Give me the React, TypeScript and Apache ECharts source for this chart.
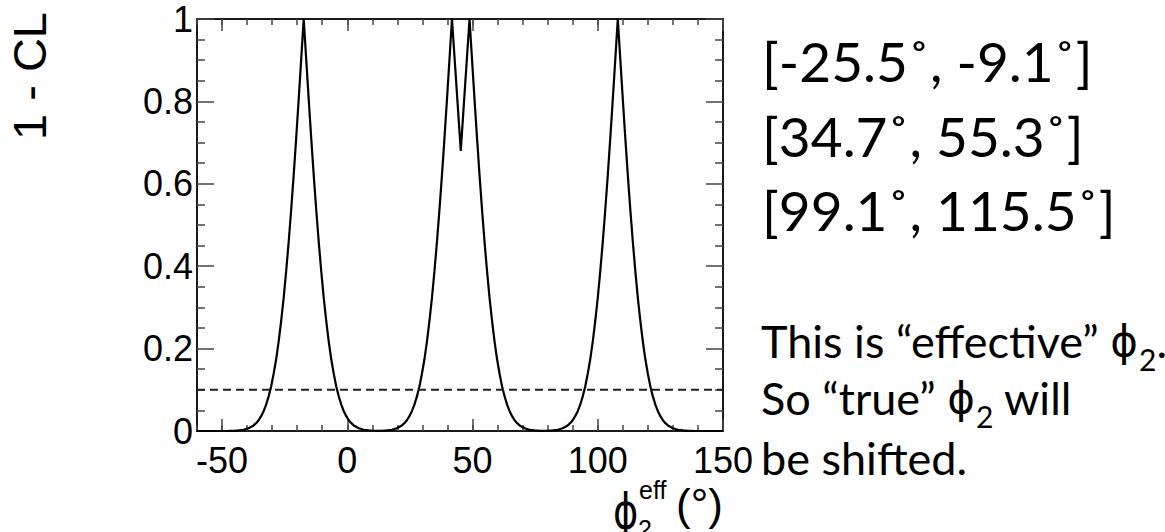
import React, { useEffect, useRef } from "react";
import * as echarts from "echarts";

// ---- axis ranges & ticks ----
const xMin = -60;
const xMax = 150;
const xMajorTicks = [-50, 0, 50, 100, 150];
const xMinorStep = 10;
const yMin = 0;
const yMax = 1;
const yStep = 0.2;
const clThreshold = 0.1;

// ---- curve: 1 - CL versus phi2_eff ----
const leftPeakPhi = [
  -60, -50, -47.4, -45.4, -43.4, -41.4, -39.4, -37.4, -36.4, -35.4, -34.4, -33.4, -32.4, -31.4,
  -30.4, -29.4, -28.4, -27.4, -26.4, -25.4, -24.4, -23.4, -22.4, -21.4, -20.4, -19.4, -18.4,
  -17.4, -16.4, -15.4, -14.4, -13.4, -12.4, -11.4, -10.4, -9.4, -8.4, -7.4, -6.4, -5.4, -4.4,
  -3.4, -2.4, -1.4, -0.4, 0.6, 1.6, 2.6, 4.6, 6.6, 8.6, 10.6, 12.3,
];
const leftPeakCL = [
  0, 0, 0.0002, 0.0005, 0.0013, 0.003, 0.0066, 0.0135, 0.019, 0.026, 0.036, 0.048, 0.064, 0.084,
  0.108, 0.139, 0.174, 0.217, 0.267, 0.323, 0.388, 0.459, 0.537, 0.621, 0.711, 0.805, 0.902,
  1, 0.902, 0.805, 0.711, 0.621, 0.537, 0.459, 0.388, 0.323, 0.267, 0.217, 0.174, 0.139, 0.108,
  0.084, 0.064, 0.048, 0.036, 0.026, 0.019, 0.0135, 0.0066, 0.003, 0.0013, 0.0006, 0.0004,
];
const middlePeakPhi = [
  13.8, 15.8, 17.8, 19.8, 21.8, 22.8, 23.8, 24.8, 25.8, 26.8, 27.8, 28.8, 29.8, 30.8, 31.8, 32.8,
  33.8, 34.8, 35.8, 36.8, 37.8, 38.8, 39.8, 40.8, 41.8, 45.3, 48.8, 49.8, 50.8, 51.8, 52.8, 53.8,
  54.8, 55.8, 56.8, 57.8, 58.8, 59.8, 60.8, 61.8, 62.8, 63.8, 64.8, 65.8, 66.8, 67.8, 68.8, 70.8,
  72.8, 74.8, 76.8, 78.8,
];
const middlePeakCL = [
  0.0006, 0.0013, 0.003, 0.0066, 0.0135, 0.019, 0.026, 0.036, 0.048, 0.064, 0.084, 0.108, 0.139,
  0.174, 0.217, 0.267, 0.323, 0.388, 0.459, 0.537, 0.621, 0.711, 0.805, 0.902, 1, 0.68, 1, 0.902,
  0.805, 0.711, 0.621, 0.537, 0.459, 0.388, 0.323, 0.267, 0.217, 0.174, 0.139, 0.108, 0.084, 0.064,
  0.048, 0.036, 0.026, 0.019, 0.0135, 0.0066, 0.003, 0.0013, 0.0005, 0.0003,
];
const rightPeakPhi = [
  80, 82, 84, 86, 88, 89, 90, 91, 92, 93, 94, 95, 96, 97, 98, 99, 100, 101, 102, 103, 104, 105, 106,
  107, 108, 109, 110, 111, 112, 113, 114, 115, 116, 117, 118, 119, 120, 121, 122, 123, 124, 125,
  126, 127, 128, 130, 132, 134, 136, 138, 150,
];
const rightPeakCL = [
  0.0005, 0.0013, 0.003, 0.0066, 0.0135, 0.019, 0.026, 0.036, 0.048, 0.064, 0.084, 0.108, 0.139,
  0.174, 0.217, 0.267, 0.323, 0.388, 0.459, 0.537, 0.621, 0.711, 0.805, 0.902, 1, 0.902, 0.805,
  0.711, 0.621, 0.537, 0.459, 0.388, 0.323, 0.267, 0.217, 0.174, 0.139, 0.108, 0.084, 0.064, 0.048,
  0.036, 0.026, 0.019, 0.0135, 0.0066, 0.003, 0.0013, 0.0005, 0.0002, 0,
];

// ---- texts ----
const yTitle = "1 - CL";
const intervalLines = ["[-25.5˚, -9.1˚]", "[34.7˚, 55.3˚]", "[99.1˚, 115.5˚]"];
// each note line: [text, kind]  kind: "n" normal, "p" phi symbol, "s" subscript
const noteLine1: [string, string][] = [["This is “effective” ", "n"], ["ϕ", "p"], ["2", "s"], [".", "n"]];
const noteLine2: [string, string][] = [["So “true” ", "n"], ["ϕ", "p"], ["2", "s"], [" will", "n"]];
const noteLine3: [string, string][] = [["be shifted.", "n"]];

const ROOT_FONT = "'Liberation Sans', Arial, Helvetica, sans-serif";
const NOTE_FONT = "Lato, 'Open Sans', sans-serif";
const PHI_FONT = "'DejaVu Sans', sans-serif";

function zip(xs: number[], ys: number[]) {
  return xs.map((x, i) => [x, ys[i]]);
}

function textWidth(text: string, fontSize: number, fontFamily: string) {
  const t = new echarts.graphic.Text({ style: { text, fontSize, fontFamily } });
  return t.getBoundingRect().width;
}

export default function App() {
  const ref = useRef<HTMLDivElement>(null);

  useEffect(() => {
    if (!ref.current) return;
    const chart = echarts.init(ref.current, null, { renderer: "svg" });

    const curve = [
      ...zip(leftPeakPhi, leftPeakCL),
      ...zip(middlePeakPhi, middlePeakCL),
      ...zip(rightPeakPhi, rightPeakCL),
    ];

    const frameLine = { color: "#1a1a1a", width: 2 };
    const tickLine = { color: "#444", width: 1.5 };

    const majorX = (position: "bottom" | "top", showLabel: boolean) => ({
      type: "value",
      position,
      min: xMin,
      max: xMax,
      axisLine: { show: true, onZero: false, lineStyle: frameLine },
      axisTick: {
        show: true,
        inside: true,
        length: 12,
        customValues: xMajorTicks,
        lineStyle: tickLine,
      },
      axisLabel: {
        show: showLabel,
        customValues: xMajorTicks,
        margin: 11,
        fontSize: 36,
        fontFamily: ROOT_FONT,
        color: "#000",
        formatter: (v: number) => String(v),
      },
      splitLine: { show: false },
    });
    const minorX = (position: "bottom" | "top") => ({
      type: "value",
      position,
      min: xMin,
      max: xMax,
      interval: xMinorStep,
      axisLine: { show: false, onZero: false },
      axisTick: { show: true, inside: true, length: 6, lineStyle: tickLine },
      axisLabel: { show: false },
      splitLine: { show: false },
    });
    const yAx = (position: "left" | "right", showLabel: boolean) => ({
      type: "value",
      position,
      min: yMin,
      max: yMax,
      interval: yStep,
      axisLine: { show: true, onZero: false, lineStyle: frameLine },
      axisTick: { show: true, inside: true, length: 17, lineStyle: tickLine },
      minorTick: { show: true, splitNumber: 4, length: 8, lineStyle: tickLine },
      axisLabel: {
        show: showLabel,
        margin: 4,
        fontSize: 36,
        fontFamily: ROOT_FONT,
        color: "#000",
      },
      splitLine: { show: false },
      minorSplitLine: { show: false },
    });

    const graphics: any[] = [
      {
        type: "text",
        x: 29,
        y: 76,
        rotation: Math.PI / 2,
        style: {
          text: yTitle,
          fontSize: 47,
          fontFamily: ROOT_FONT,
          fill: "#000",
          align: "center",
          verticalAlign: "middle",
        },
      },
      // x-axis title: phi_2^eff (deg)
      {
        type: "text",
        x: 613,
        y: 535,
        scaleX: 0.8,
        style: { text: "ϕ", fontSize: 48, fontFamily: PHI_FONT, fill: "#000", align: "left", verticalAlign: "bottom" },
      },
      {
        type: "text",
        x: 639,
        y: 502,
        style: { text: "eff", fontSize: 25, fontFamily: ROOT_FONT, fill: "#000", align: "left", verticalAlign: "bottom" },
      },
      {
        type: "text",
        x: 638,
        y: 541,
        style: { text: "2", fontSize: 25, fontFamily: ROOT_FONT, fill: "#000", align: "left", verticalAlign: "bottom" },
      },
      {
        type: "text",
        x: 723,
        y: 526,
        style: { text: "(°)", fontSize: 44, fontFamily: ROOT_FONT, fill: "#000", align: "right", verticalAlign: "bottom" },
      },
    ];

    const intervalBaselines = [88, 163, 237];
    intervalLines.forEach((t, i) => {
      graphics.push({
        type: "text",
        x: 762,
        y: intervalBaselines[i] - 27,
        style: {
          text: t,
          fontSize: 55,
          fontFamily: NOTE_FONT,
          fill: "#000",
          align: "left",
          verticalAlign: "middle",
        },
      });
    });

    const noteFont = 45;
    const phiFontSize = 42;
    const subFontSize = 30;
    const noteBaselines = [358, 415, 475];
    [noteLine1, noteLine2, noteLine3].forEach((segments, i) => {
      let cursor = 761;
      const base = noteBaselines[i];
      segments.forEach(([text, kind]) => {
        const size = kind === "p" ? phiFontSize : kind === "s" ? subFontSize : noteFont;
        const family = kind === "p" ? PHI_FONT : NOTE_FONT;
        const y = kind === "s" ? base + 1 : base - 17;
        graphics.push({
          type: "text",
          x: cursor + (kind === "s" ? 1 : 0),
          y,
          style: {
            text,
            fontSize: size,
            fontFamily: family,
            fill: "#000",
            align: "left",
            verticalAlign: "middle",
          },
        });
        cursor += textWidth(text, size, family) + (kind === "s" ? 1 : 0);
      });
    });

    chart.setOption({
      animation: false,
      backgroundColor: "#fff",
      grid: { left: 197, top: 19, width: 526, height: 412, outerBoundsMode: "none" },
      xAxis: [majorX("bottom", true), minorX("bottom"), majorX("top", false), minorX("top")],
      yAxis: [yAx("left", true), yAx("right", false)],
      series: [
        {
          type: "line",
          xAxisIndex: 0,
          yAxisIndex: 0,
          data: curve,
          showSymbol: false,
          symbol: "none",
          lineStyle: { color: "#000", width: 2.2 },
          silent: true,
        },
        {
          type: "line",
          xAxisIndex: 0,
          yAxisIndex: 0,
          data: [
            [xMin, clThreshold],
            [xMax, clThreshold],
          ],
          showSymbol: false,
          symbol: "none",
          lineStyle: { color: "#222", width: 2, type: [8, 5] },
          silent: true,
        },
      ],
      graphic: graphics,
    });

    return () => chart.dispose();
  }, []);

  return (
    <div
      ref={ref}
      style={{ position: "absolute", left: 0, top: 0, width: 1165, height: 532, background: "#fff" }}
    />
  );
}
